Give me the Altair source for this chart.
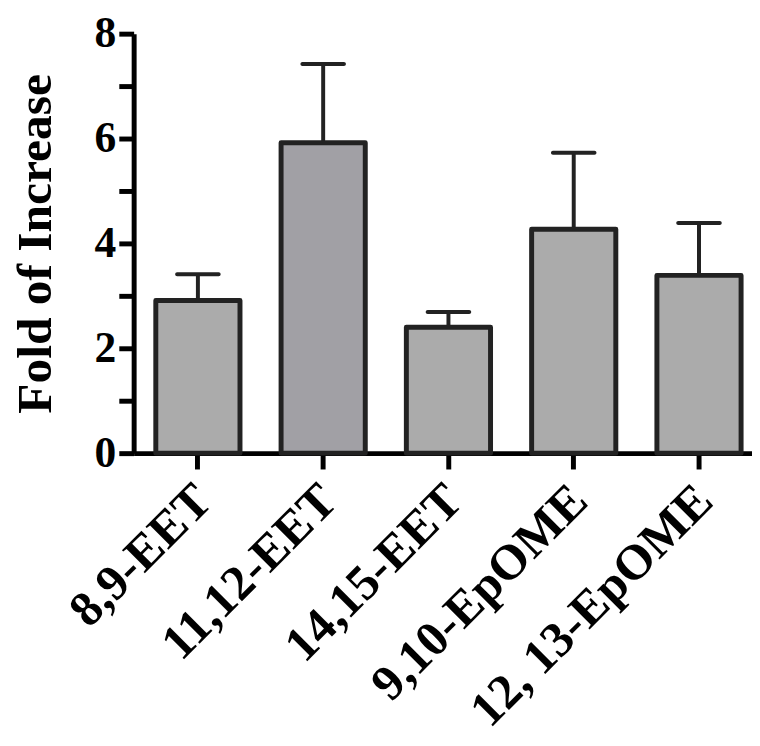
import altair as alt
import pandas as pd

categories = ["8,9-EET", "11,12-EET", "14,15-EET", "9,10-EpOME", "12, 13-EpOME"]
means = [2.91, 5.92, 2.40, 4.27, 3.39]
upper = [3.41, 7.42, 2.69, 5.73, 4.39]
fills = ["#ababab", "#a1a0a5", "#ababab", "#ababab", "#ababab"]

df = pd.DataFrame({"cat": categories, "mean": means, "upper": upper, "fill": fills})

FONT = "Liberation Serif"

x = alt.X("cat:N", sort=categories,
          scale=alt.Scale(paddingInner=0.328, paddingOuter=0.132, align=0.67),
          axis=alt.Axis(title=None, labelAngle=-45, labelAlign="right", labelBaseline="middle",
                        labelFont=FONT, labelFontWeight="bold", labelFontSize=50,
                        labelColor="black", labelPadding=24, labelOffset=6, labelLimit=0,
                        domainColor="black", domainWidth=5,
                        tickColor="black", tickWidth=5, tickSize=16))

y_axis = alt.Axis(title="Fold of Increase", titleFont=FONT, titleFontWeight="bold",
                  titleFontSize=50, titleColor="black", titlePadding=34,
                  values=[0, 1, 2, 3, 4, 5, 6, 7, 8],
                  labelExpr="datum.value % 2 == 0 ? datum.label : ''",
                  labelFont=FONT, labelFontWeight="bold", labelFontSize=44,
                  labelColor="black", labelPadding=3,
                  domainColor="black", domainWidth=5,
                  tickColor="black", tickWidth=5, tickSize=15, grid=False)

base = alt.Chart(df)

bars = base.mark_bar(stroke="#222222", strokeWidth=5, strokeJoin="round").encode(
    x=x,
    y=alt.Y("mean:Q", scale=alt.Scale(domain=[0, 8], nice=False), axis=y_axis),
    fill=alt.Fill("fill:N", scale=None),
)

stems = base.mark_rule(color="#222222", strokeWidth=4).encode(
    x=alt.X("cat:N", sort=categories),
    y="mean:Q",
    y2="upper:Q",
)

caps = base.mark_tick(color="#222222", thickness=4, size=46, cornerRadius=2, opacity=1).encode(
    x=alt.X("cat:N", sort=categories),
    y="upper:Q",
)

chart = alt.layer(stems, caps, bars).properties(
    width=625, height=424, background="white",
    padding={"left": 3, "top": 0, "right": 0, "bottom": 0},
).configure_view(stroke=None).configure_axis(grid=False)

chart.save("out.html", embed_options={"renderer": "svg", "actions": False})
